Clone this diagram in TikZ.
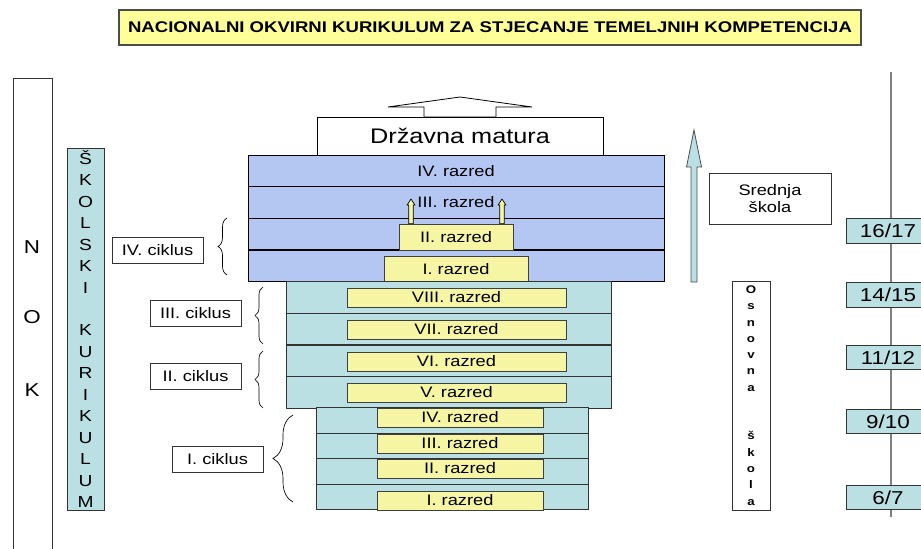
\documentclass[tikz,border=0pt]{standalone}
\usepackage{fontspec}
\setmainfont{Liberation Sans}[FakeStretch=1.2]
\usetikzlibrary{calc,decorations.pathreplacing}

\definecolor{hsblue}{HTML}{B4C7F3}
\definecolor{ostteal}{HTML}{BBE0E3}
\definecolor{baryellow}{HTML}{F5F5A3}
\definecolor{titleyellow}{HTML}{FFFF99}

\newcommand{\rowfont}{\fontsize{11.4pt}{13pt}\selectfont}
\newcommand{\agefont}{\fontsize{14pt}{16pt}\selectfont}
\newcommand{\maturafont}{\fontsize{15.8pt}{18pt}\selectfont}
\newcommand{\titlefont}{\fontsize{11.6pt}{14pt}\selectfont\bfseries}
\newcommand{\nokfont}{\fontsize{14pt}{16pt}\selectfont}
\newcommand{\skfont}{\fontsize{12pt}{16.1pt}\selectfont}
\newcommand{\osfont}{\fontsize{8.3pt}{12.2pt}\selectfont\bfseries}

% block arrow: [style]{base}{tip}{shaft half}{head half}{head length}
\newcommand{\blockarrow}[6][]{%
  \filldraw[#1] ($(#2)+(-#4,0)$) -- ($(#3)+(-#4,#6)$) -- ($(#3)+(-#5,#6)$)
    -- (#3) -- ($(#3)+(#5,#6)$) -- ($(#3)+(#4,#6)$) -- ($(#2)+(#4,0)$) -- cycle;}

\begin{document}
\begin{tikzpicture}[x=0.75pt,y=-0.75pt,line width=0.6pt,
  every node/.style={inner sep=0pt},
  hsrow/.style={draw=black,fill=hsblue,minimum width=312pt,minimum height=23.8pt,font=\rowfont},
  osrow/.style={draw=black!80,fill=ostteal,minimum width=243.75pt,minimum height=23.6pt},
  lorow/.style={draw=black!80,fill=ostteal,minimum width=204pt,minimum height=19.1pt},
  grade/.style={draw=black!75,fill=baryellow,minimum height=14.25pt,font=\rowfont},
  cycbox/.style={draw=black!80,fill=white,minimum width=68.25pt,minimum height=19.5pt,font=\rowfont},
  cycbrace/.style={decorate,decoration={brace,amplitude=#1},line width=0.5pt},
  agebox/.style={draw=black!80,fill=ostteal,minimum width=63pt,minimum height=18.4pt,font=\agefont},
  ]

\useasboundingbox (0,0) rectangle (921,549);
\clip (0,0) rectangle (921,549);

%% - Draw helping gridlines
%% - --------------------------------------

%\draw[step=50,gray,very thin] (0,0) grid (921,549);

%% - Title
%% - --------------------------------------
\node[draw=black!70,fill=titleyellow,line width=0.8pt,minimum width=556.5pt,minimum height=26.25pt,font=\titlefont] (title) at (490,27.5) {NACIONALNI OKVIRNI KURIKULUM ZA STJECANJE TEMELJNIH KOMPETENCIJA};

%% - NOK column
%% - --------------------------------------
\draw[black!80] (13,560) -- (13,78) -- (52,78) -- (52,560);
\node[font=\nokfont] (nokn) at (32,247) {N};
\node[font=\nokfont] (noko) at (32,317) {O};
\node[font=\nokfont] (nokk) at (32,390) {K};

%% - Skolski kurikulum
%% - --------------------------------------
\node[draw=black!80,fill=ostteal,minimum width=27.75pt,minimum height=271.5pt,font=\skfont,align=center] (sk) at (85.5,329)
  {Š\\K\\O\\L\\S\\K\\I\\~\\K\\U\\R\\I\\K\\U\\L\\U\\M};

%% - Srednja skola (razredi I-IV)
%% - --------------------------------------
\coordinate (matbase) at (460,117);
\coordinate (mattip) at (460,97);
\blockarrow[fill=white,draw=black]{matbase}{mattip}{36}{72}{10}
\node[draw=black,fill=white,minimum width=214.5pt,minimum height=28.5pt,font=\maturafont] (mat) at (460,136) {Državna matura};

\node[hsrow] (hs4) at (456,171) {IV. razred};
\node[hsrow] (hs3) at (456,202.5) {III. razred};
\node[hsrow] (hs2) at (456,234) {};
\node[hsrow] (hs1) at (456,266) {};
\node[grade,minimum width=85.5pt,minimum height=19.5pt] (hg2) at (456,237) {II. razred};
\node[grade,minimum width=108pt,minimum height=19.5pt] (hg1) at (456,269) {I. razred};

\coordinate (up1) at (411,199);
\coordinate (up2) at (502,199);
\coordinate (up1b) at (up1 |- hg2.north);
\coordinate (up2b) at (up2 |- hg2.north);
\blockarrow[fill=baryellow,draw=black,line width=0.5pt]{up1b}{up1}{2.2}{3.9}{6}
\blockarrow[fill=baryellow,draw=black,line width=0.5pt]{up2b}{up2}{2.2}{3.9}{6}

%% - Osnovna skola (razredi V-VIII)
%% - --------------------------------------
\node[osrow] (os8) at (448.5,297.5) {};
\node[osrow] (os7) at (448.5,329) {};
\node[osrow] (os6) at (448.5,361) {};
\node[osrow] (os5) at (448.5,392.5) {};
\node[grade,minimum width=164.25pt] (og8) at (456.5,297.5) {VIII. razred};
\node[grade,minimum width=164.25pt] (og7) at (456.5,329.5) {VII. razred};
\node[grade,minimum width=164.25pt] (og6) at (456.5,361.5) {VI. razred};
\node[grade,minimum width=164.25pt] (og5) at (456.5,392.5) {V. razred};

%% - Osnovna skola (razredi I-IV)
%% - --------------------------------------
\node[lorow] (os4) at (452,420.5) {};
\node[lorow] (os3) at (452,446) {};
\node[lorow] (os2) at (452,471.5) {};
\node[lorow] (os1) at (452,497) {};
\node[grade,minimum width=124.5pt] (og4) at (460,417.5) {IV. razred};
\node[grade,minimum width=124.5pt] (og3) at (460,443.5) {III. razred};
\node[grade,minimum width=124.5pt] (og2) at (460,468.5) {II. razred};
\node[grade,minimum width=124.5pt] (og1) at (460,500.5) {I. razred};

%% - Ciklusi
%% - --------------------------------------
\node[cycbox] (cyc4) at (157.5,250) {IV. ciklus};
\node[cycbox] (cyc3) at (195.5,313.5) {III. ciklus};
\node[cycbox] (cyc2) at (195.5,376.5) {II. ciklus};
\node[cycbox] (cyc1) at (217.5,459.5) {I. ciklus};

\draw[cycbrace=6.75pt] (227,275) -- (227,218);
\draw[cycbrace=6pt] (263,344) -- (263,287);
\draw[cycbrace=6pt] (263,408) -- (263,351);
\draw[cycbrace=15pt] (293,502) -- (293,415);

%% - Right side
%% - --------------------------------------
\coordinate (ssbase) at (694,282);
\coordinate (sstip) at (694,130);
\blockarrow[fill=ostteal,draw=black!70]{ssbase}{sstip}{3}{7.5}{37}

\node[draw=black!80,fill=white,minimum width=91.5pt,minimum height=38.25pt,font=\rowfont,align=center] (ss) at (770,198.5) {Srednja\\škola};
\node[draw=black!80,fill=white,minimum width=28.5pt,minimum height=171.75pt,font=\osfont,align=center] (os) at (751,395.5)
  {O\\s\\n\\o\\v\\n\\a\\~\\~\\š\\k\\o\\l\\a};

%% - Dob
%% - --------------------------------------
\coordinate (dobtop) at (891,72);
\coordinate (dobbot) at (891,517);
\draw[gray,line width=0.8pt] (dobtop) -- (dobbot);

\node[agebox] (dob5) at (888,231) {16/17};
\node[agebox] (dob4) at (888,295) {14/15};
\node[agebox] (dob3) at (888,357.5) {11/12};
\node[agebox] (dob2) at (888,421.5) {9/10};
\node[agebox] (dob1) at (888,497.5) {6/7};

\end{tikzpicture}
\end{document}
